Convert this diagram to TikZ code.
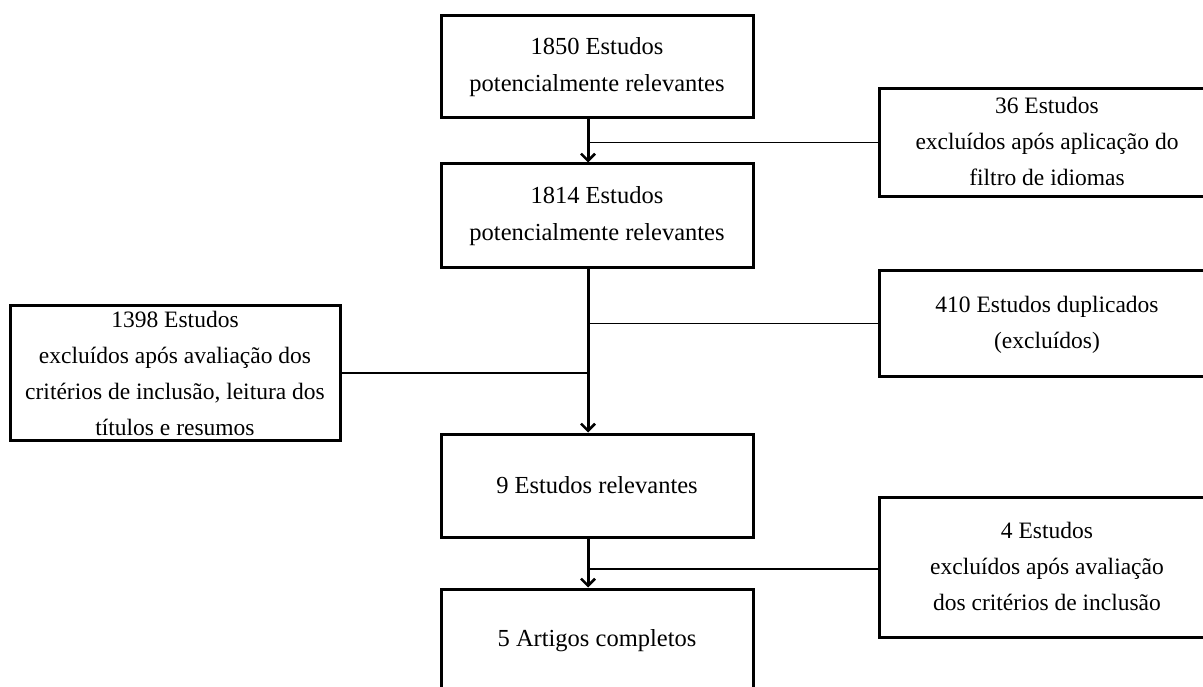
\documentclass[tikz,border=0pt]{standalone}
\usepackage{fontspec}
\setmainfont{Liberation Serif}
\usetikzlibrary{arrows.meta}
\begin{document}
\begin{tikzpicture}[x=1pt,y=-1pt,
  box/.style={draw, line width=3pt, align=center, inner sep=0pt,
    font=\fontsize{23.5}{36}\selectfont},
  mainbox/.style={box, minimum width=312pt, font=\fontsize{24.5}{37}\selectfont},
  sidebox/.style={box, minimum width=351pt},
  flowarrow/.style={line width=3pt, -{Straight Barb[length=7pt,width=14pt,line width=2.5pt]}},
  sideline/.style={line width=1.6pt}]
\useasboundingbox (0,0) rectangle (1203,687);
\clip (0,0) rectangle (1203,687);
\coordinate (flow) at (588,0);
% main column
\node[mainbox, minimum height=102pt] (b1) at (597,67)
  {1850 Estudos\\potencialmente relevantes};
\node[mainbox, minimum height=104pt] (b2) at (597,216)
  {1814 Estudos\\potencialmente relevantes};
\node[mainbox, minimum height=103pt] (b3) at (597,485.5)
  {9 Estudos relevantes};
\node[mainbox, minimum height=103pt] (b4) at (597,640.5)
  {5 Artigos completos};
% right column (cut by the picture's right edge)
\node[sidebox, minimum height=105pt] (r1) at (1054.5,142.5)
  {\hspace*{-15pt}\begin{tabular}{@{}c@{}}36 Estudos\\excluídos após aplicação do\\filtro de idiomas\end{tabular}};
\node[sidebox, minimum height=105pt] (r2) at (1054.5,323.5)
  {\hspace*{-15pt}\begin{tabular}{@{}c@{}}410 Estudos duplicados\\(excluídos)\end{tabular}};
\node[sidebox, minimum height=140pt] (r3) at (1054.5,567)
  {\hspace*{-15pt}\raisebox{-6pt}{\begin{tabular}{@{}c@{}}4 Estudos\\excluídos após avaliação\\dos critérios de inclusão\end{tabular}}};
% left box
\node[box, minimum width=330pt, minimum height=134pt] (l1) at (175,373)
  {1398 Estudos\\excluídos após avaliação dos\\critérios de inclusão, leitura dos\\títulos e resumos};
% flow arrows
\draw[flowarrow] (b1.south -| flow) -- (b2.north -| flow);
\draw[flowarrow] (b2.south -| flow) -- (b3.north -| flow);
\draw[flowarrow] (b3.south -| flow) -- (b4.north -| flow);
% side connectors
\draw[sideline] (r1.west) -- (r1.west -| flow);
\draw[sideline] (r2.west) -- (r2.west -| flow);
\draw[sideline] (l1.east) -- (l1.east -| flow);
\draw[sideline] ([yshift=-2pt]r3.west) -- ([yshift=-2pt]r3.west -| flow);
\end{tikzpicture}
\end{document}
